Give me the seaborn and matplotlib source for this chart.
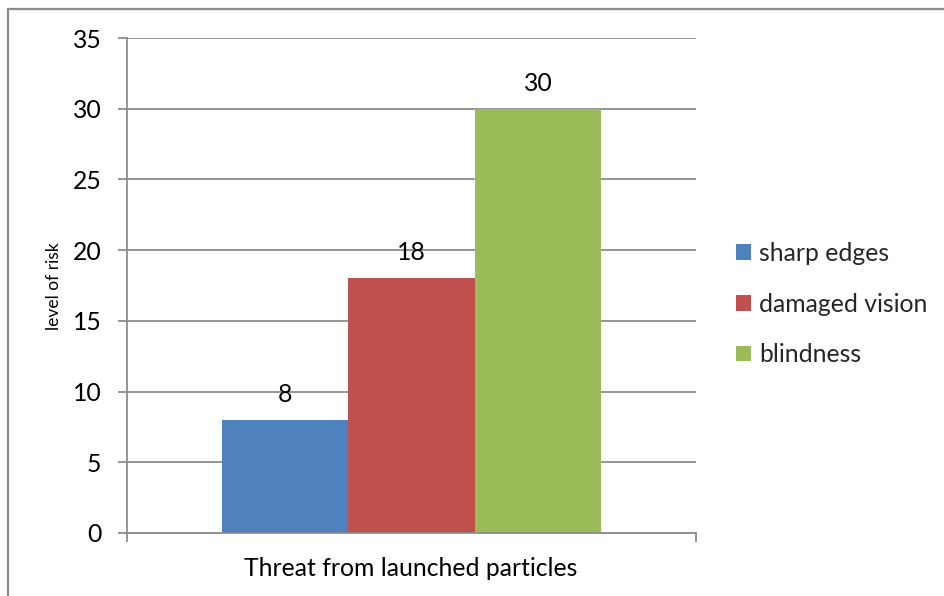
import matplotlib
matplotlib.use("Agg")
import matplotlib.pyplot as plt
import matplotlib.patches as mpatches
from matplotlib.lines import Line2D
import pandas as pd
import seaborn as sns

category = ["Threat from launched particles"]
series = ["sharp edges", "damaged vision", "blindness"]
values = [8, 18, 30]
colors = ["#4F81BD", "#C0504D", "#9BBB59"]
y_ticks = [0, 5, 10, 15, 20, 25, 30, 35]

sns.set_theme(style="white")
plt.rcParams["font.family"] = ["Lato", "DejaVu Sans"]

W, H = 945, 596
FS = 17.8

df = pd.DataFrame({
    "category": category * len(series),
    "series": series,
    "value": values,
})

fig = plt.figure(figsize=(W / 100, H / 100), dpi=100)
ax = fig.add_axes([127 / W, 1 - 533 / H, (696 - 127) / W, (533 - 38) / H])

sns.barplot(data=df, x="category", y="value", hue="series", hue_order=series,
            palette=colors, width=0.667, saturation=1, ax=ax, legend=False,
            edgecolor="none", linewidth=0)

grid_c = "#8C8C8C"
ax.set_ylim(0, 35)
ax.set_xlim(-0.5, 0.5)
ax.set_yticks(y_ticks)
ax.set_yticklabels([str(t) for t in y_ticks], fontsize=FS, color="black")
ax.yaxis.grid(True, color=grid_c, linewidth=1.3)
ax.set_axisbelow(True)
for s in ["top", "right"]:
    ax.spines[s].set_visible(False)
for s in ["left", "bottom"]:
    ax.spines[s].set_color(grid_c)
    ax.spines[s].set_linewidth(1.3)
ax.tick_params(axis="y", which="both", left=True, length=6.5, width=1.3, color=grid_c, pad=12)
ax.set_xticks([-0.5, 0.5])
ax.set_xticklabels(["", ""])
ax.tick_params(axis="x", bottom=True, length=6.5, width=1.3, color=grid_c)
ax.set_xlabel("")
ax.set_ylabel("")

# category name under the axis and the value-axis title
fig.text(411 / W, 1 - 568 / H, category[0], ha="center", va="center", fontsize=FS, color="black")
fig.text(54 / W, 1 - 286 / H, "level of risk", ha="center", va="center", rotation=90,
         fontsize=12.5, color="black")

for patch, v in zip(ax.patches, values):
    ax.annotate(str(v), (patch.get_x() + patch.get_width() / 2, v),
                xytext=(0, 13), textcoords="offset points",
                ha="center", va="baseline", fontsize=FS, color="black")

handles = [mpatches.Patch(facecolor=c, edgecolor="none", label=s) for s, c in zip(series, colors)]
fig.legend(handles=handles, loc="center left", bbox_to_anchor=(736 / W, 1 - 304 / H),
           frameon=False, fontsize=FS, handlelength=0.6, handleheight=0.6,
           handletextpad=0.35, labelspacing=1.12, borderaxespad=0, borderpad=0)

# outer chart frame (top and left edges fall inside the canvas)
frame_c = "#8C8C8C"
fig.add_artist(Line2D([8.5 / W, 8.5 / W], [0, 1 - 8.5 / H], transform=fig.transFigure,
                      color=frame_c, linewidth=1.6))
fig.add_artist(Line2D([8.5 / W, 1], [1 - 8.5 / H, 1 - 8.5 / H], transform=fig.transFigure,
                      color=frame_c, linewidth=1.6))

fig.savefig("out.png", dpi=100, facecolor="white")
